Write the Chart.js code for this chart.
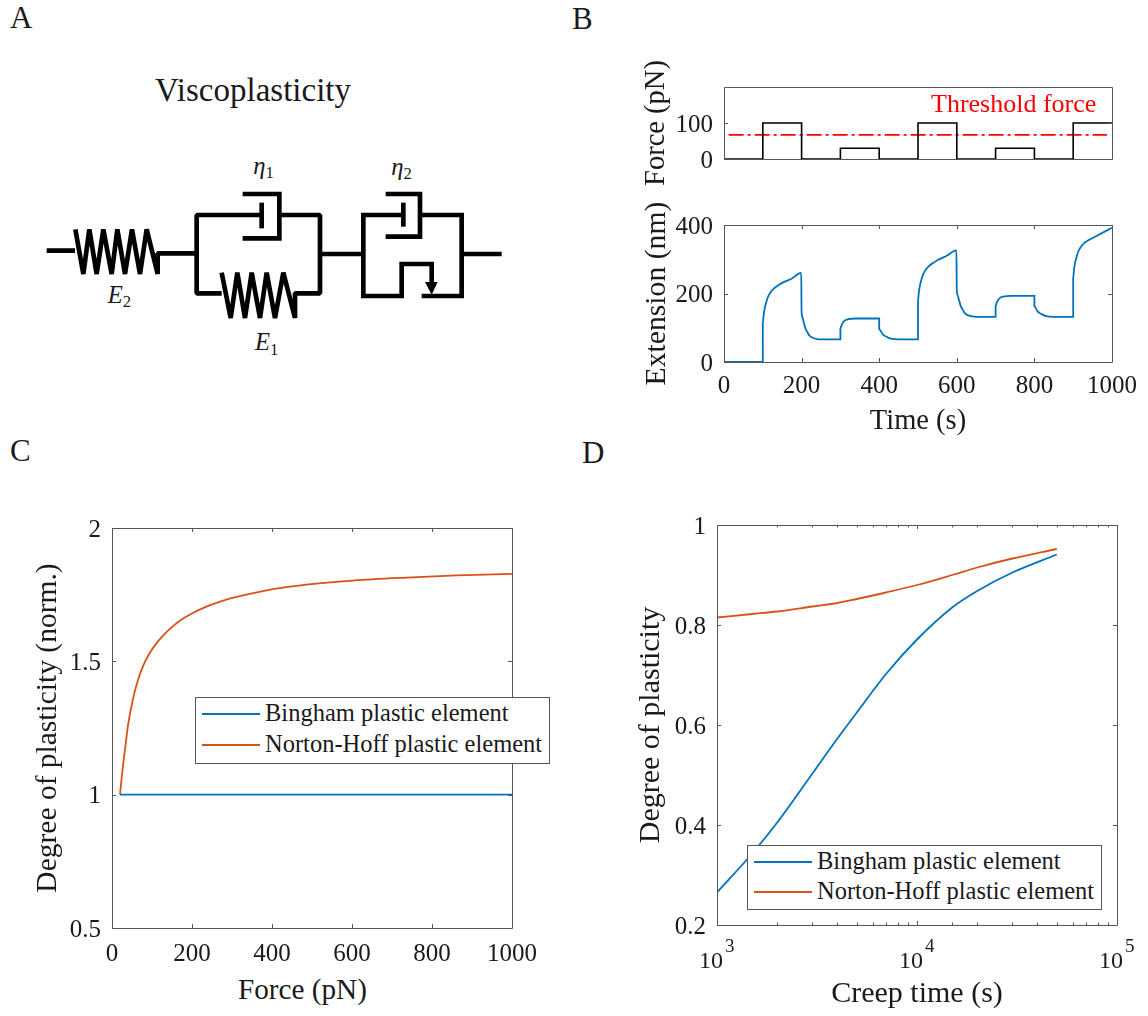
<!DOCTYPE html>
<html>
<head>
<meta charset="utf-8">
<title>Viscoplasticity</title>
<script src="https://cdn.jsdelivr.net/npm/chart.js@4/dist/chart.umd.min.js"></script>
<style>
  html, body { margin: 0; background: #fff; }
  body { position: relative; width: 1148px; height: 1016px; overflow: hidden; font-family: 'Liberation Serif', serif; color: #1a1a1a; }
  canvas, .txt, .legend, svg { position: absolute; }
  .txt { white-space: nowrap; line-height: 1; }
  .legend { box-sizing: border-box; background: #fff; border: 1px solid #555; font-size: 24.5px; }
  .legend .row { position: absolute; white-space: nowrap; line-height: 1; }
  .legend .swatch { position: absolute; height: 2px; }
</style>
</head>
<body>
<div class="txt" style="left:10px;top:2px;font-size:31px">A</div>
<div class="txt" style="left:572px;top:3px;font-size:31px">B</div>
<div class="txt" style="left:10px;top:435px;font-size:31px">C</div>
<div class="txt" style="left:582px;top:437px;font-size:31px">D</div>

<!-- panel A schematic, 3 units per page px -->
<svg style="left:0;top:60px" width="520" height="320" viewBox="0 0 1560 960">
  <g fill="none" stroke="#000" stroke-width="14" stroke-linejoin="bevel">
    <path d="M140 572H225M226 508L250 642L268 508L290 642L310 508L335 642L352 508L375 642L396 508L420 642L440 508L473 642V580H590"/>
    <path d="M785 465H590V700H665M665 638L692 774L712 638L735 774L755 638L780 774L800 638L825 774L850 638L885 774V700H960V465H838"/>
    <path d="M785 428V505"/>
    <path d="M728 402H838V535H728" stroke-linejoin="miter"/>
    <path d="M960 582H1090"/>
    <path d="M1210 465H1090V708H1205V612H1295V670M1265 708H1385V465H1260" stroke-linejoin="miter"/>
    <path d="M1210 428V500"/>
    <path d="M1157 402H1260V530H1157" stroke-linejoin="miter"/>
    <path d="M1385 582H1505"/>
  </g>
  <path d="M1275 666H1313L1295 704Z" fill="#000"/>
  <g font-family="'Liberation Serif', serif" font-style="italic" font-size="74" fill="#1a1a1a">
    <text x="760" y="342">η<tspan font-style="normal" font-size="50" dy="12">1</tspan></text>
    <text x="1174" y="345">η<tspan font-style="normal" font-size="50" dy="12">2</tspan></text>
    <text x="323" y="728">E<tspan font-style="normal" font-size="50" dy="14">2</tspan></text>
    <text x="765" y="870">E<tspan font-style="normal" font-size="50" dy="14">1</tspan></text>
  </g>
</svg>

<canvas id="force-chart"></canvas>
<canvas id="extension-chart"></canvas>
<canvas id="norm-chart"></canvas>
<canvas id="creep-chart"></canvas>
<div class="txt" style="left:155px;top:74px;font-size:33px">Viscoplasticity</div>
<div class="txt" style="left:931px;top:91px;font-size:26px;color:#f00">Threshold force</div>
<div class="txt" style="left:238px;top:975px;font-size:29.2px">Force (pN)</div>

<script>
const BLUE = '#0072BD';
const ORANGE = '#D95319';
const BOX = '#555555';
const SERIF = "'Liberation Serif', serif";

/* panel B, force steps */
const stepTime = [0, 100, 100, 200, 200, 300, 300, 400, 400, 500, 500, 600, 600, 700, 700, 800, 800, 900, 900, 1000];
const stepForce = [0, 0, 100, 100, 0, 0, 30, 30, 0, 0, 100, 100, 0, 0, 30, 30, 0, 0, 100, 100];
const thresholdTime = [12, 987];
const thresholdForce = [67, 67];

/* panel B, extension */
const extTime = [0, 100, 100, 102, 105, 109, 113, 118, 128, 140, 150, 175, 199,
  200, 202, 205, 210, 215, 221, 230, 240, 250, 275, 300,
  300, 302, 305, 310, 320, 340, 400,
  400, 403, 406, 410, 420, 430, 450, 500,
  500, 502, 505, 509, 513, 518, 528, 540, 550, 575, 599,
  600, 602, 605, 610, 615, 621, 630, 640, 650, 675, 700,
  700, 702, 705, 710, 720, 740, 800,
  800, 803, 806, 810, 820, 830, 850, 900,
  900, 902, 905, 909, 913, 918, 928, 940, 950, 975, 1000];
const extValue = [0, 0, 112, 135, 157, 175, 189, 200, 214, 224, 231, 244, 260,
  146, 131, 118, 98, 87, 76, 70, 67, 66, 66, 66,
  97, 104, 112, 120, 125, 127, 127,
  97, 92, 87, 80, 73, 68, 66, 66,
  178, 202, 223, 241, 255, 266, 280, 290, 297, 311, 326,
  210, 195, 184, 164, 153, 142, 136, 133, 132, 132, 132,
  163, 170, 178, 186, 191, 193, 193,
  163, 158, 152, 146, 139, 134, 132, 132,
  245, 270, 290, 308, 322, 333, 347, 356, 362, 377, 392];

/* panel C */
const forceX = [20, 24, 28, 33, 40, 52, 64, 77, 95, 115, 133, 152, 172, 194, 236, 278, 336, 402, 486, 602, 736, 861, 1000];
const nortonNorm = [1, 1.06, 1.115, 1.175, 1.26, 1.356, 1.425, 1.48, 1.533, 1.575, 1.605, 1.631, 1.655, 1.675, 1.705, 1.728, 1.75, 1.771, 1.788, 1.803, 1.814, 1.822, 1.828];
const binghamForce = [20, 1000];
const binghamNorm = [1, 1];

/* panel D */
const creepTime = [1000, 1500, 2000, 3000, 4000, 5000, 7000, 10000, 15000, 20000, 30000, 50000];
const binghamDegree = [0.265, 0.343, 0.405, 0.503, 0.573, 0.625, 0.702, 0.771, 0.835, 0.868, 0.905, 0.941];
const nortonDegree = [0.815, 0.822, 0.827, 0.837, 0.844, 0.852, 0.865, 0.88, 0.90, 0.915, 0.933, 0.952];

const seriesLabels = ['Bingham plastic element', 'Norton-Hoff plastic element'];

const zip = (xs, ys) => xs.map((x, i) => ({ x, y: ys[i] }));
const isDecade = v => Math.abs(Math.log10(v) - Math.round(Math.log10(v))) < 1e-9;

// matlab style box with inward ticks on all four sides
const boxPlugin = {
  id: 'box',
  afterDatasetsDraw(chart, args, opts) {
    const { ctx, chartArea: a, scales } = chart;
    ctx.save();
    ctx.strokeStyle = BOX;
    ctx.lineWidth = 1;
    ctx.beginPath();
    ctx.rect(Math.round(a.left) + 0.5, Math.round(a.top) + 0.5, Math.round(a.width), Math.round(a.height));
    if (opts.xTicks !== false) {
      scales.x.ticks.forEach(t => {
        const len = scales.x.type === 'logarithmic' && !isDecade(t.value) ? 2.5 : 4;
        const x = Math.round(scales.x.getPixelForValue(t.value)) + 0.5;
        ctx.moveTo(x, a.top); ctx.lineTo(x, a.top + len);
        ctx.moveTo(x, a.bottom); ctx.lineTo(x, a.bottom - len);
      });
    }
    scales.y.ticks.forEach(t => {
      const y = Math.round(scales.y.getPixelForValue(t.value)) + 0.5;
      ctx.moveTo(a.left, y); ctx.lineTo(a.left + 4, y);
      ctx.moveTo(a.right, y); ctx.lineTo(a.right - 4, y);
    });
    ctx.stroke();
    ctx.restore();
  }
};

// 10^n labels for the log axis
const powerLabels = {
  id: 'powerLabels',
  afterDraw(chart, args, opts) {
    if (!opts.enabled) return;
    const { ctx, chartArea: a, scales } = chart;
    ctx.save();
    ctx.fillStyle = '#1a1a1a';
    ctx.textBaseline = 'alphabetic';
    scales.x.ticks.filter(t => isDecade(t.value)).forEach(t => {
      const x = scales.x.getPixelForValue(t.value);
      ctx.font = '24px ' + SERIF;
      ctx.textAlign = 'right';
      ctx.fillText('10', x + 6, a.bottom + 43);
      ctx.font = '19px ' + SERIF;
      ctx.textAlign = 'left';
      ctx.fillText(String(Math.round(Math.log10(t.value))), x + 8, a.bottom + 27);
    });
    ctx.restore();
  }
};

function makeChart(id, rect, plot, datasets, cfg) {
  const el = document.getElementById(id);
  el.width = rect.w;
  el.height = rect.h;
  el.style.left = rect.x + 'px';
  el.style.top = rect.y + 'px';
  const titleFont = size => ({ family: SERIF, size, lineHeight: 1 });
  const chart = new Chart(el, {
    type: 'scatter',
    data: { datasets },
    plugins: [boxPlugin, powerLabels],
    options: {
      responsive: false,
      animation: false,
      events: [],
      layout: { padding: { top: plot.t - rect.y, right: rect.x + rect.w - plot.r, left: 0, bottom: 0 } },
      plugins: {
        legend: { display: false },
        tooltip: { enabled: false },
        box: { xTicks: cfg.xTicks },
        powerLabels: { enabled: !!cfg.logX }
      },
      elements: { point: { radius: 0 }, line: { borderWidth: 1.8, borderJoinStyle: 'miter' } },
      scales: {
        x: {
          type: cfg.logX ? 'logarithmic' : 'linear',
          min: cfg.xMin, max: cfg.xMax,
          grid: { display: false, drawTicks: false },
          border: { display: false },
          title: cfg.xTitle ? { display: true, text: cfg.xTitle, color: '#1a1a1a', padding: 0, font: titleFont(cfg.titleSize) } : { display: false },
          afterFit: s => { s.height = rect.y + rect.h - plot.b; },
          ticks: {
            display: !cfg.hideXLabels,
            autoSkip: false, maxRotation: 0, padding: cfg.xPad, color: '#1a1a1a',
            font: { family: SERIF, size: 25, lineHeight: 1 },
            stepSize: cfg.xStep,
            callback: cfg.logX ? () => '' : v => String(v)
          }
        },
        y: {
          min: cfg.yMin, max: cfg.yMax,
          grid: { display: false, drawTicks: false },
          border: { display: false },
          title: { display: true, text: cfg.yTitle, color: '#1a1a1a', padding: 0, font: titleFont(cfg.yTitleSize || cfg.titleSize) },
          afterFit: s => { s.width = plot.l - rect.x; },
          afterBuildTicks: s => { s.ticks = cfg.yTicks.map(value => ({ value })); },
          ticks: {
            autoSkip: false, padding: 11, labelOffset: 2, color: '#1a1a1a',
            font: { family: SERIF, size: 25, lineHeight: 1 },
            callback: v => String(v)
          }
        }
      }
    }
  });
  return chart;
}

// html legend
function addLegend(chart, box) {
  const el = document.createElement('div');
  el.className = 'legend';
  el.style.cssText = `left:${box.x}px;top:${box.y}px;width:${box.w}px;height:${box.h}px`;
  chart.data.datasets.forEach((ds, i) => {
    const cy = box.rowY[i] - box.y - 1;
    el.insertAdjacentHTML('beforeend',
      `<div class="swatch" style="left:6px;width:58px;top:${cy - 1}px;background:${ds.borderColor}"></div>` +
      `<div class="row" style="left:69px;top:${cy - 13}px">${ds.label}</div>`);
  });
  document.body.appendChild(el);
}

makeChart('force-chart',
  { x: 642, y: 55, w: 510, h: 140 }, { l: 724, t: 87, r: 1112, b: 159 },
  [
    { data: zip(stepTime, stepForce), borderColor: '#000', showLine: true, borderWidth: 1.6 },
    { data: zip(thresholdTime, thresholdForce), borderColor: '#f00', showLine: true, borderWidth: 1.6, borderDash: [15, 4, 3, 4] }
  ],
  { xMin: 0, xMax: 1000, xStep: 200, xPad: 12, yMin: 0, yMax: 200, yTicks: [0, 100], yTitle: 'Force (pN)', titleSize: 28.5, hideXLabels: true, xTicks: false });

makeChart('extension-chart',
  { x: 642, y: 196, w: 510, h: 240 }, { l: 724, t: 225, r: 1112, b: 362 },
  [{ data: zip(extTime, extValue), borderColor: BLUE, showLine: true, cubicInterpolationMode: 'monotone' }],
  { xMin: 0, xMax: 1000, xStep: 200, xPad: 12, yMin: 0, yMax: 400, yTicks: [0, 200, 400], yTitle: 'Extension (nm)', xTitle: 'Time (s)', titleSize: 28.5, yTitleSize: 29.7 });

const normChart = makeChart('norm-chart',
  { x: 33, y: 498, w: 525, h: 472 }, { l: 112, t: 528, r: 512, b: 928 },
  [
    { label: seriesLabels[0], data: zip(binghamForce, binghamNorm), borderColor: BLUE, showLine: true },
    { label: seriesLabels[1], data: zip(forceX, nortonNorm), borderColor: ORANGE, showLine: true, cubicInterpolationMode: 'monotone' }
  ],
  { xMin: 0, xMax: 1000, xStep: 200, xPad: 14, yMin: 0.5, yMax: 2, yTicks: [0.5, 1, 1.5, 2], yTitle: 'Degree of plasticity (norm.)', titleSize: 29.5 });
addLegend(normChart, { x: 195, y: 697, w: 355, h: 67, rowY: [714, 745] });

const creepChart = makeChart('creep-chart',
  { x: 636, y: 496, w: 512, h: 513 }, { l: 717, t: 525, r: 1117, b: 925 },
  [
    { label: seriesLabels[0], data: zip(creepTime, binghamDegree), borderColor: BLUE, showLine: true, cubicInterpolationMode: 'monotone' },
    { label: seriesLabels[1], data: zip(creepTime, nortonDegree), borderColor: ORANGE, showLine: true, cubicInterpolationMode: 'monotone' }
  ],
  { logX: true, xMin: 1000, xMax: 100000, yMin: 0.2, yMax: 1, yTicks: [0.2, 0.4, 0.6, 0.8, 1], yTitle: 'Degree of plasticity', xTitle: 'Creep time (s)', titleSize: 30 });
addLegend(creepChart, { x: 747, y: 845, w: 355, h: 65, rowY: [862, 892] });
</script>
</body>
</html>
